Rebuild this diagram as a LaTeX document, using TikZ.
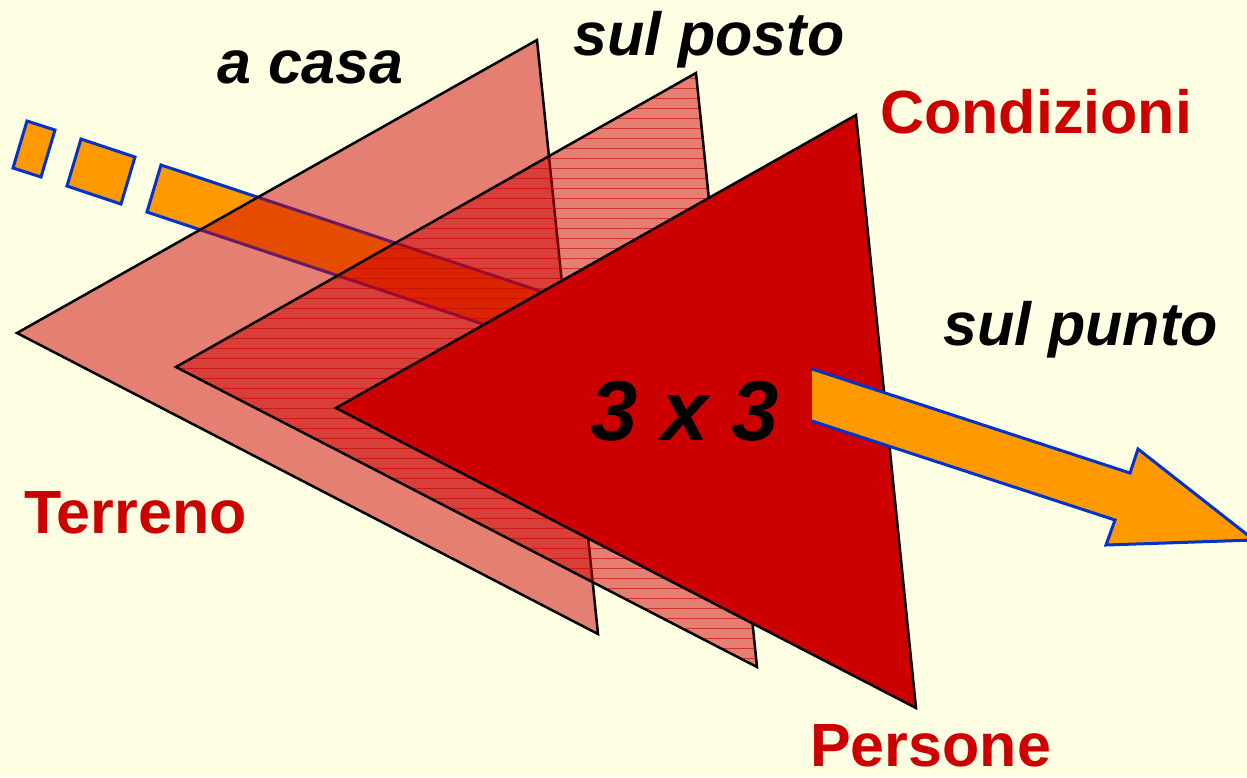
\documentclass[tikz,border=0pt]{standalone}
\usepackage{fontspec}
\setmainfont{Liberation Sans}
\usepackage{tikz}
\usetikzlibrary{calc}
\usepackage{xcolor}
\definecolor{sfondo}{RGB}{255,255,227}
\definecolor{rosso}{RGB}{204,0,0}
\definecolor{arancio}{RGB}{255,153,0}
\definecolor{blu}{RGB}{0,51,204}

\begin{document}
\begin{tikzpicture}[x=1pt, y=-1pt,
  freccia/.style={fill=arancio, draw=blu, line width=3pt, line join=miter},
  triang/.style={draw=black, line width=2.5pt, line join=miter},
  velo/.style={fill=rosso, fill opacity=0.5},
  motto/.style={font=\fontsize{61}{61}\selectfont\bfseries\itshape, anchor=base west, inner sep=0pt},
  voce/.style={font=\fontsize{61}{61}\selectfont\bfseries, text=rosso, anchor=base west, inner sep=0pt}]
\clip (0,0) rectangle (1247,777);
\fill[sfondo] (0,0) rectangle (1247,777);
% Freccia tratteggiata
\draw[freccia] (27,121) -- (55,130) -- (41,177) -- (13,168) -- cycle;
\draw[freccia] (81,139) -- (135,157) -- (121,204) -- (67,186) -- cycle;
\draw[freccia] (161,165) -- (720,351) -- (720,403) -- (147,212) -- cycle;
% Vertici dei triangoli
\coordinate (A1) at (17,333);  \coordinate (B1) at (537,40);  \coordinate (C1) at (598,634);
\coordinate (A2) at (176,367); \coordinate (B2) at (696,73);  \coordinate (C2) at (757,667);
\coordinate (A3) at (336,408); \coordinate (B3) at (856,115); \coordinate (C3) at (916,708);
% Triangolo 1
\fill[velo] (A1) -- (B1) -- (C1) -- cycle;
\draw[triang] (A1) -- (B1) -- (C1) -- cycle;
% Triangolo 2 (tratteggio orizzontale)
\begin{scope}
\clip (A2) -- (B2) -- (C2) -- cycle;
\fill[velo] (150,60) rectangle (780,680);
\foreach \y in {78,88,...,668}
  \draw[rosso, opacity=0.6, line width=0.8pt] (150,\y) -- (780,\y);
\end{scope}
\draw[triang] (A2) -- (B2) -- (C2) -- cycle;
% Triangolo 3
\filldraw[triang, fill=rosso] (A3) -- (B3) -- (C3) -- cycle;
% Freccia finale
\fill[arancio] (812,369) -- (1130,473) -- (1138,449) -- (1254,540) -- (1106,545) -- (1115,520) -- (812,421) -- cycle;
\draw[blu, line width=3pt, line join=miter] (812,369) -- (1130,473) -- (1138,449) -- (1254,540) -- (1106,545) -- (1115,520) -- (812,421);
% Etichette
\node[motto] (casa) at (217,83) {a casa};
\node[motto] (posto) at (573,55) {sul posto};
\node[voce] (cond) at (880,133) {Condizioni};
\node[motto] (punto) at (943,345) {sul punto};
\node[motto, font=\fontsize{85}{85}\selectfont\bfseries\itshape] (tre) at (590,440) {3 x 3};
\node[voce] (terr) at (24,533) {Terreno};
\node[voce] (pers) at (810,766) {Persone};
\end{tikzpicture}
\end{document}
